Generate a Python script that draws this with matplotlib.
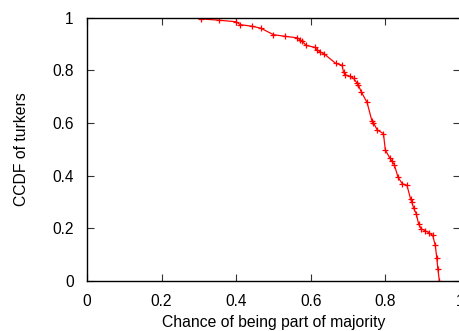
import matplotlib
matplotlib.use("Agg")
import matplotlib.pyplot as plt

chance = [0.305, 0.353, 0.400, 0.411, 0.443, 0.467, 0.500, 0.530, 0.564, 0.571,
          0.577, 0.588, 0.611, 0.617, 0.625, 0.636, 0.667, 0.684, 0.688, 0.692,
          0.706, 0.715, 0.723, 0.728, 0.735, 0.751, 0.764, 0.768, 0.778, 0.795,
          0.800, 0.812, 0.818, 0.824, 0.834, 0.845, 0.858, 0.868, 0.871, 0.876,
          0.883, 0.889, 0.896, 0.907, 0.916, 0.927, 0.934, 0.938, 0.941, 0.945]
ccdf = [0.995, 0.990, 0.984, 0.973, 0.967, 0.959, 0.935, 0.929, 0.923, 0.916,
        0.910, 0.894, 0.887, 0.878, 0.870, 0.862, 0.826, 0.819, 0.792, 0.783,
        0.777, 0.769, 0.753, 0.743, 0.719, 0.678, 0.608, 0.601, 0.574, 0.559,
        0.497, 0.467, 0.454, 0.442, 0.394, 0.370, 0.363, 0.310, 0.300, 0.276,
        0.255, 0.218, 0.198, 0.191, 0.184, 0.173, 0.135, 0.087, 0.044, 0.0]
xticks = [0, 0.2, 0.4, 0.6, 0.8, 1]
yticks = [0, 0.2, 0.4, 0.6, 0.8, 1]
xtick_labels = ["0", "0.2", "0.4", "0.6", "0.8", "1"]
ytick_labels = ["0", "0.2", "0.4", "0.6", "0.8", "1"]

plt.rcParams['font.family'] = ['Liberation Sans', 'DejaVu Sans']

fig = plt.figure(figsize=(4.59, 3.31), dpi=100)
ax = fig.add_axes([0.1895, 0.151, 0.8125, 0.796])
ax.plot(chance, ccdf, color='red', linewidth=0.9, marker='+', markersize=5,
        markeredgewidth=0.9)
ax.set_xlim(0, 1)
ax.set_ylim(0, 1)
ax.set_xticks(xticks)
ax.set_xticklabels(xtick_labels)
ax.set_yticks(yticks)
ax.set_yticklabels(ytick_labels)
ax.tick_params(direction='in', length=5, width=0.8, top=True, right=True,
               labelsize=11.2, color='#333333')
ax.tick_params(axis='x', pad=9)
ax.tick_params(axis='y', pad=9.5)
for s in ax.spines.values():
    s.set_linewidth(1.0)
    s.set_color('black')
ax.set_xlabel("Chance of being part of majority", fontsize=11.3, labelpad=5)
ax.set_ylabel("CCDF of turkers", fontsize=11.3, labelpad=17)
fig.savefig("out.png", dpi=100)
